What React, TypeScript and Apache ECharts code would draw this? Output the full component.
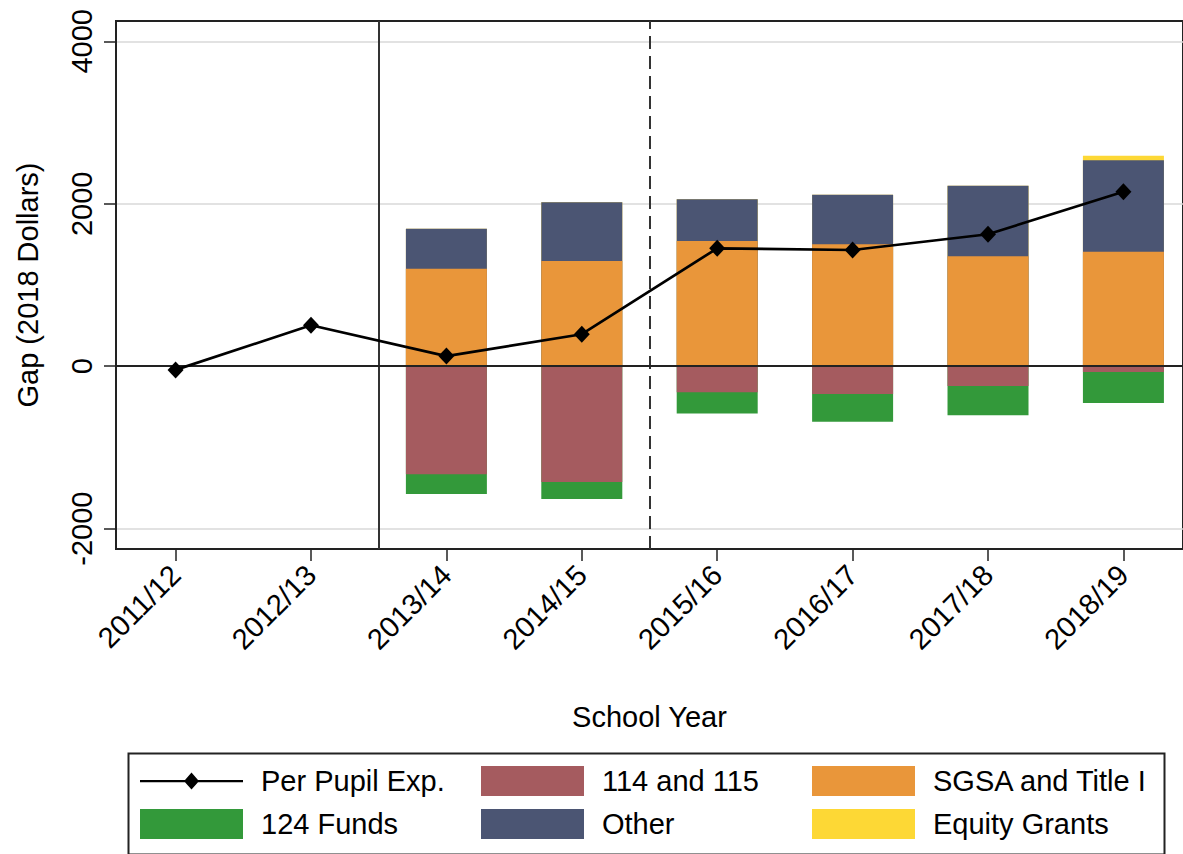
import React, { useEffect, useRef } from "react";
import * as echarts from "echarts";

const categories = ["2011/12", "2012/13", "2013/14", "2014/15", "2015/16", "2016/17", "2017/18", "2018/19"];
const perPupil = [-45, 504, 125, 394, 1452, 1431, 1625, 2148];
const funds114 = [null, null, -1329, -1426, -320, -341, -242, -70];
const funds124 = [null, null, -243, -209, -263, -341, -361, -382];
const sgsa = [null, null, 1201, 1296, 1542, 1502, 1354, 1410];
const other = [null, null, 493, 722, 513, 610, 869, 1125];
const equity = [null, null, 0, 0, 0, 0, 0, 57];
const yTicks = [-2000, 0, 2000, 4000];

const FONT = "'Liberation Sans', Arial, Helvetica, sans-serif";
const C114 = "#A55B5F";
const C124 = "#33993A";
const COTHER = "#4B5573";
const CSGSA = "#E9963A";
const CEQ = "#FDD835";

const idx = categories.map((_, i) => i);
function cum(arrs: (number | null)[][]) {
  return idx
    .filter((i) => arrs[0][i] != null)
    .map((i) => [i, arrs.reduce((s, a) => s + ((a[i] as number) ?? 0), 0)]);
}

const lineIcon =
  "path://M0,0 L0.01,0 L0,0.01 Z M103,30 L102.99,30 L103,29.99 Z M0,14 L45,14 L51.5,6.5 L58,14 L103,14 L103,16.2 L58,16.2 L51.5,23.5 L45,16.2 L0,16.2 Z";

export default function App() {
  const ref = useRef<HTMLDivElement>(null);
  useEffect(() => {
    const chart = echarts.init(ref.current!, null, { renderer: "svg" });
    const barBase = {
      type: "bar",
      barWidth: 81,
      barGap: "-100%",
      z: 3,
    };
    const legendText = {
      fontSize: 29,
      fontFamily: FONT,
      color: "#000",
      lineHeight: 30,
      padding: [0, 0, 0, 13],
    };
    const legendBase = {
      orient: "vertical",
      top: 766,
      itemWidth: 103,
      itemHeight: 30,
      itemGap: 13,
      padding: 0,
      selectedMode: false,
      textStyle: legendText,
    };
    chart.setOption({
      animation: false,
      backgroundColor: "#fff",
      textStyle: { fontFamily: FONT },
      grid: {
        left: 116,
        top: 21,
        width: 1072,
        height: 528,
        show: true,
        borderColor: "#222",
        borderWidth: 2,
        containLabel: false,
      },
      xAxis: {
        type: "value",
        min: -0.44,
        max: 7.44,
        axisLine: { show: true, onZero: false, lineStyle: { color: "#222", width: 2 } },
        axisTick: { show: true, customValues: idx, length: 12, lineStyle: { color: "#222", width: 1.5 } },
        axisLabel: {
          customValues: idx,
          formatter: (v: number) => categories[Math.round(v)],
          rotate: 45,
          margin: 21,
          fontSize: 29,
          color: "#000",
          fontFamily: FONT,
        },
        splitLine: { show: false },
        name: "School Year",
        nameLocation: "middle",
        nameGap: 153,
        nameTextStyle: { fontSize: 29, color: "#000", fontFamily: FONT },
      },
      yAxis: {
        type: "value",
        min: -2250,
        max: 4250,
        axisLine: { show: true, onZero: false, lineStyle: { color: "#222", width: 2 } },
        axisTick: { show: true, customValues: yTicks, length: 12, lineStyle: { color: "#222", width: 1.5 } },
        axisLabel: {
          customValues: yTicks,
          formatter: (v: number) => String(v),
          rotate: 90,
          margin: 20,
          fontSize: 29,
          color: "#000",
          fontFamily: FONT,
        },
        splitLine: { show: true, lineStyle: { color: "#d9d9d9", width: 1.5 } },
        name: "Gap (2018 Dollars)",
        nameLocation: "middle",
        nameRotate: 90,
        nameGap: 74,
        nameTextStyle: { fontSize: 29, color: "#000", fontFamily: FONT },
      },
      legend: [
        {
          ...legendBase,
          left: 140,
          data: [
            { name: "Per Pupil Exp.", icon: lineIcon },
            { name: "124 Funds", icon: "rect" },
          ],
        },
        {
          ...legendBase,
          left: 481,
          data: [
            { name: "114 and 115", icon: "rect" },
            { name: "Other", icon: "rect" },
          ],
        },
        {
          ...legendBase,
          left: 812,
          data: [
            { name: "SGSA and Title I", icon: "rect" },
            { name: "Equity Grants", icon: "rect" },
          ],
        },
      ],
      graphic: [
        {
          type: "rect",
          left: 126,
          top: 751,
          shape: { width: 1036, height: 101 },
          style: { fill: "none", stroke: "#222", lineWidth: 2 },
          silent: true,
        },
      ],
      series: [
        { ...barBase, name: "Equity Grants", itemStyle: { color: CEQ }, data: cum([sgsa, other, equity]) },
        { ...barBase, name: "Other", itemStyle: { color: COTHER }, data: cum([sgsa, other]) },
        { ...barBase, name: "SGSA and Title I", itemStyle: { color: CSGSA }, data: cum([sgsa]) },
        { ...barBase, name: "124 Funds", itemStyle: { color: C124 }, data: cum([funds114, funds124]) },
        { ...barBase, name: "114 and 115", itemStyle: { color: C114 }, data: cum([funds114]) },
        {
          type: "line",
          name: "Per Pupil Exp.",
          z: 10,
          data: idx.map((i) => [i, perPupil[i]]),
          symbol: "diamond",
          symbolSize: [16, 17],
          lineStyle: { color: "#000", width: 2.7 },
          itemStyle: { color: "#000" },
          markLine: {
            silent: true,
            symbol: "none",
            label: { show: false },
            data: [
              { xAxis: 1.5, lineStyle: { color: "#333", width: 2, type: "solid" } },
              { xAxis: 3.5, lineStyle: { color: "#333", width: 2, type: [13, 7] } },
              { yAxis: 0, lineStyle: { color: "#222", width: 2, type: "solid" } },
            ],
          },
        },
      ],
    });
    return () => chart.dispose();
  }, []);
  return (
    <div
      ref={ref}
      style={{ position: "fixed", left: 0, top: 0, width: 1183, height: 854, background: "#fff" }}
    />
  );
}
